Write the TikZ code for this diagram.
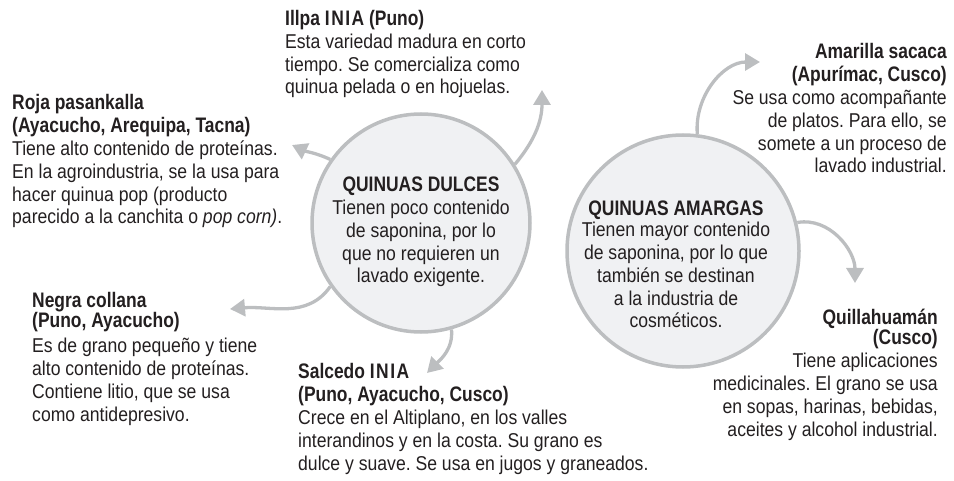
\documentclass[tikz,border=0pt]{standalone}
\usepackage{fontspec}
\setmainfont{Liberation Sans}[UprightFeatures={FakeStretch=0.88},BoldFeatures={FakeStretch=0.83},ItalicFeatures={FakeStretch=0.88}]
\usetikzlibrary{arrows.meta}
\definecolor{ring}{HTML}{BCBEC0}
\definecolor{disk}{HTML}{F0F1F3}
\definecolor{ink}{HTML}{231F20}
\newcommand{\inia}{I\kern1.5pt N\kern1.5pt I\kern1.5pt A}
\newcommand{\hd}[1]{{\fontsize{21}{22.8}\selectfont\bfseries #1}}
\frenchspacing
\begin{document}
\begin{tikzpicture}[x=1pt,y=1pt,
  circ/.style={circle, draw=ring, fill=disk, line width=3.5pt, minimum size=#1, inner sep=0pt},
  txt/.style={inner sep=0pt, text=ink, font=\fontsize{20}{22.8}\selectfont\frenchspacing},
  arr/.style={draw=ring, line width=3.3pt, -{Triangle[length=15pt,width=17pt]}}]
\useasboundingbox (0,0) rectangle (954,480);

% circles
\node[circ=218] (dul) at (421,257) {};
\node[circ=232] (ama) at (683,229) {};

% (anchor base = baseline of the last line)
\node[txt, anchor=base, align=center] (dultxt) at (421,197)
  {\hd{QUINUAS DULCES}\\Tienen poco contenido\\de saponina, por lo\\que no requieren un\\lavado exigente.};
\node[txt, anchor=base, align=center] (amatxt) at (676,152)
  {\hd{QUINUAS AMARGAS}\\[-1pt]Tienen mayor contenido\\de saponina, por lo que\\también se destinan\\a la industria de\\cosméticos.};

% text blocks
\node[txt, anchor=base west, align=left] (illpa) at (285,386)
  {\hd{Illpa \inia\ (Puno)}\\Esta variedad madura en corto\\tiempo. Se comercializa como\\quinua pelada o en hojuelas.};
\node[txt, anchor=base west, align=left] (roja) at (12,256)
  {\hd{Roja pasankalla}\\\hd{(Ayacucho, Arequipa, Tacna)}\\Tiene alto contenido de proteínas.\\En la agroindustria, se la usa para\\hacer quinua pop (producto\\parecido a la canchita o \textit{pop corn)}.};
\node[txt, anchor=base west, align=left] (negra) at (32,59)
  {\hd{Negra collana}\\[-2pt]\hd{(Puno, Ayacucho)}\\[2pt]Es de grano pequeño y tiene\\alto contenido de proteínas.\\Contiene litio, que se usa\\como antidepresivo.};
\node[txt, anchor=base west, align=left] (salcedo) at (298,10)
  {\hd{Salcedo \inia}\\\hd{(Puno, Ayacucho, Cusco)}\\Crece en el Altiplano, en los valles\\interandinos y en la costa. Su grano es\\dulce y suave. Se usa en jugos y graneados.};
\node[txt, anchor=base east, align=right] (amarilla) at (947,307)
  {\hd{Amarilla sacaca}\\\hd{(Apurímac, Cusco)}\\Se usa como acompañante\\de platos. Para ello, se\\somete a un proceso de\\lavado industrial.};
\node[txt, anchor=base east, align=right] (quilla) at (938,44)
  {\hd{Quillahuamán}\\[-2pt]\hd{(Cusco)}\\Tiene aplicaciones\\medicinales. El grano se usa\\en sopas, harinas, bebidas,\\aceites y alcohol industrial.};

% arrow tips
\coordinate (tipIllpa) at (542,390);
\coordinate (tipRoja) at (292,335);
\coordinate (tipNegra) at (230,171);
\coordinate (tipSalcedo) at (427,107);
\coordinate (tipAmarilla) at (760,418);
\coordinate (tipQuilla) at (855,197);

\draw[arr] (dul.32) to[out=50,in=-90] (tipIllpa);
\draw[arr] (dul.145) to[out=155,in=-25] (tipRoja);
\draw[arr] (dul.215) to[out=235,in=5] (tipNegra);
\draw[arr] (dul.-74) to[out=-85,in=45] (tipSalcedo);
\draw[arr] (ama.83) to[out=95,in=180] (tipAmarilla);
\draw[arr] (ama.14) to[out=10,in=90] (tipQuilla);
\end{tikzpicture}
\end{document}
